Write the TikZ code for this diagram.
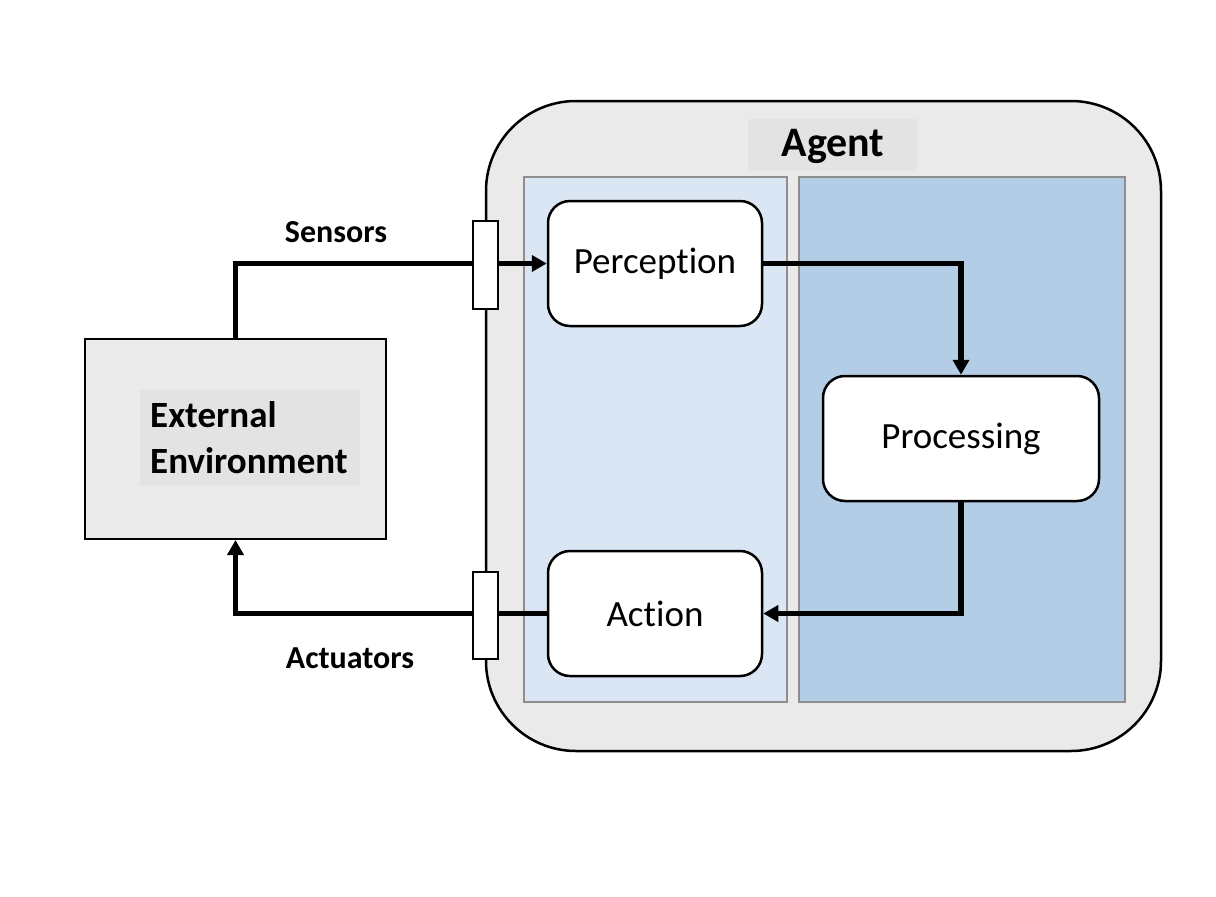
\documentclass[tikz,border=0pt]{standalone}
\usepackage{fontspec}
\setmainfont[Ligatures={NoCommon}]{Carlito}
\usetikzlibrary{arrows.meta}
\definecolor{agentbg}{HTML}{EAEAEA}
\definecolor{labelbg}{HTML}{E3E3E3}
\definecolor{lightpanel}{HTML}{DAE6F3}
\definecolor{darkpanel}{HTML}{B4CDE6}
\definecolor{panelline}{HTML}{8E8E8E}
\tikzset{
  proc/.style={draw=black, line width=2.5pt, fill=white, rounded corners=22pt, inner sep=0pt, font=\fontsize{37}{44}\selectfont},
  panelbox/.style={draw=panelline, line width=1.2pt, inner sep=0pt},
  port/.style={draw=black, line width=1.8pt, fill=white, inner sep=0pt, minimum width=25pt},
  flow/.style={line width=5.5pt, -{Triangle[length=15pt,width=16pt]}},
  lbl/.style={font=\bfseries\fontsize{32}{38}\selectfont, inner sep=0pt}
}
\begin{document}
\begin{tikzpicture}[x=1pt,y=-1pt]
\useasboundingbox (0,0) rectangle (1216,897);
% agent outer
\node[draw=black, line width=2.5pt, fill=agentbg, rounded corners=90pt, minimum width=675pt, minimum height=650pt, inner sep=0pt] (agent) at (823.5,426) {};
\node[fill=labelbg, minimum width=169pt, minimum height=52pt, inner sep=0pt] (agentlbg) at (832.5,145) {};
\node[font=\bfseries\fontsize{42}{48}\selectfont, inner sep=0pt] (agentl) at (833,146) {Agent};
% panels
\node[panelbox, fill=lightpanel, minimum width=263pt, minimum height=525pt] (lp) at (655.5,439.5) {};
\node[panelbox, fill=darkpanel, minimum width=326pt, minimum height=525pt] (rp) at (962,439.5) {};
% external environment
\node[draw=black, line width=2pt, fill=agentbg, minimum width=301pt, minimum height=200pt, inner sep=0pt] (env) at (235.5,439) {};
\node[fill=labelbg, minimum width=220pt, minimum height=96pt, inner sep=0pt] (envlbg) at (250,438) {};
\node[anchor=west, align=left, inner sep=0pt, font=\bfseries\fontsize{37}{46}\selectfont] (envl) at (150,438) {External\\Environment};
% process nodes
\node[proc, minimum width=214pt, minimum height=125pt] (perc) at (655,263.5) {Perception};
\node[proc, minimum width=276pt, minimum height=125pt] (procn) at (961,438.5) {Processing};
\node[proc, minimum width=214pt, minimum height=125pt] (act) at (655,613.5) {Action};
% flows
\draw[flow] (env.north) |- (perc.west);
\draw[flow] (perc.east) -| (procn.north);
\draw[flow] (procn.south) |- (act.east);
\draw[flow] (act.west) -| (env.south);
% ports
\node[port, minimum height=88pt] (sport) at (485.5,265) {};
\node[port, minimum height=87pt] (aport) at (485.5,615.5) {};
% labels
\node[lbl] (sens) at (336,232) {Sensors};
\node[lbl] (actu) at (350,658) {Actuators};
\end{tikzpicture}
\end{document}
